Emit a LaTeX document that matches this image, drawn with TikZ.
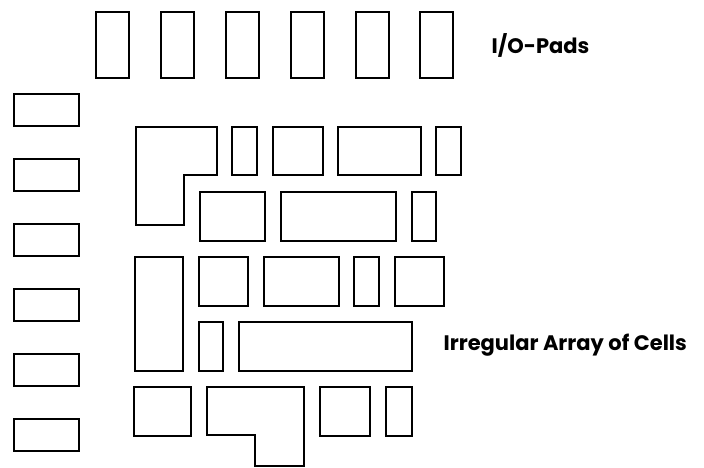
\documentclass[tikz,border=0pt]{standalone}
\usepackage{fontspec}
\setsansfont{Poppins}
\usetikzlibrary{positioning}

\begin{document}
\begin{tikzpicture}[x=1pt,y=-1pt,line width=1.2pt,font=\sffamily\bfseries\fontsize{21}{25}\selectfont,
	box/.style={minimum width=#1,inner sep=0pt,outer sep=0pt,draw=black},
	pad/.style={box=33pt,minimum height=66pt},
	sidepad/.style={box=65pt,minimum height=32pt}]
	\useasboundingbox (0,0) rectangle (704,468);
	% I/O pads along the top
	\node [pad,anchor=north west] at (96,12) (P1) {};
	\node [pad,right=32pt of P1] (P2) {};
	\node [pad,right=32pt of P2] (P3) {};
	\node [pad,right=32pt of P3] (P4) {};
	\node [pad,right=32pt of P4] (P5) {};
	\node [pad,right=31pt of P5] (P6) {};
	\node [anchor=west,inner sep=0pt] at (491,45) (Pads) {I/O-Pads};
	% I/O pads along the left side
	\node [sidepad,anchor=north west] at (14,94) (S1) {};
	\node [sidepad,below=33pt of S1] (S2) {};
	\node [sidepad,below=33pt of S2] (S3) {};
	\node [sidepad,below=33pt of S3] (S4) {};
	\node [sidepad,below=33pt of S4] (S5) {};
	\node [sidepad,below=33pt of S5] (S6) {};
	% cells
	\draw (136,127) -- (217,127) -- (217,175) -- (184,175) -- (184,225) -- (136,225) -- cycle;
	\node [box=25pt,minimum height=48pt,anchor=north west] at (232,127) (C11) {};
	\node [box=50pt,minimum height=48pt,right=16pt of C11] (C12) {};
	\node [box=83pt,minimum height=48pt,right=15pt of C12] (C13) {};
	\node [box=25pt,minimum height=48pt,right=15pt of C13] (C14) {};
	\node [box=65pt,minimum height=49pt,anchor=north west] at (200,192) (C21) {};
	\node [box=115pt,minimum height=49pt,right=16pt of C21] (C22) {};
	\node [box=24pt,minimum height=49pt,right=16pt of C22] (C23) {};
	\node [box=48pt,minimum height=114pt,anchor=north west] at (135,257) (C31) {};
	\node [box=49pt,minimum height=49pt,anchor=north west] at (199,257) (C32) {};
	\node [box=75pt,minimum height=49pt,right=16pt of C32] (C33) {};
	\node [box=25pt,minimum height=49pt,right=15pt of C33] (C34) {};
	\node [box=49pt,minimum height=49pt,right=16pt of C34] (C35) {};
	\node [box=24pt,minimum height=49pt,anchor=north west] at (199,322) (C41) {};
	\node [box=173pt,minimum height=49pt,right=16pt of C41] (C42) {};
	\node [anchor=west,inner sep=0pt] at (443,345) (Cells) {Irregular Array of Cells};
	\node [box=57pt,minimum height=49pt,anchor=north west] at (134,387) (C51) {};
	\draw (207,387) -- (304,387) -- (304,466) -- (255,466) -- (255,435) -- (207,435) -- cycle;
	\node [box=50pt,minimum height=49pt,anchor=north west] at (320,387) (C52) {};
	\node [box=26pt,minimum height=49pt,right=16pt of C52] (C53) {};
\end{tikzpicture}
\end{document}
